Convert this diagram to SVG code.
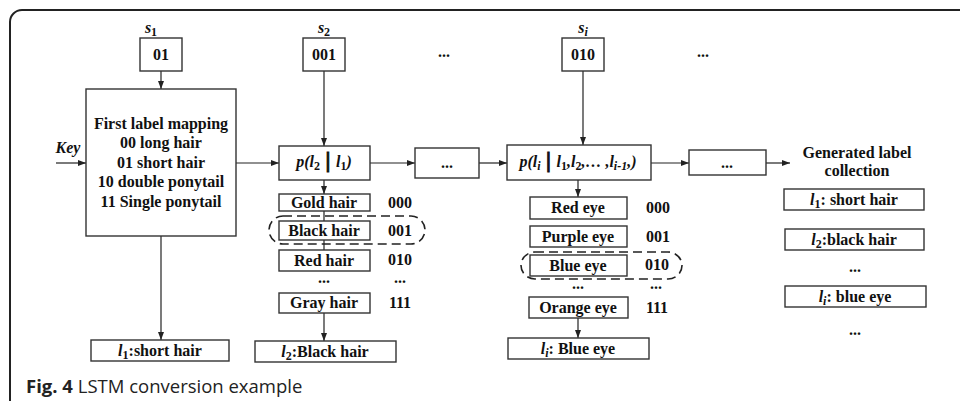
<svg xmlns="http://www.w3.org/2000/svg" width="960" height="403" viewBox="0 0 960 403">
<defs>
<marker id="ah" viewBox="0 0 8 6" refX="8" refY="3" markerWidth="8" markerHeight="6" markerUnits="userSpaceOnUse" orient="auto"><path d="M0,0 L8,3 L0,6 Z" fill="#222"/></marker>
<style>
.b{fill:#fff;stroke:#333;stroke-width:1.4}
.t{font-family:"Liberation Serif","Times New Roman",serif;font-weight:bold;font-size:16px;fill:#111;text-anchor:middle}
.i{font-style:italic}
.s{font-size:12px}
.bar{font-size:22px;font-style:normal;stroke:#111;stroke-width:1}
.c{stroke:#222;stroke-width:1.2;fill:none}
.a{stroke:#222;stroke-width:1.2;fill:none;marker-end:url(#ah)}
.d{fill:none;stroke:#222;stroke-width:1.6;stroke-dasharray:9 5}
.cap{font-family:"Open Sans","Noto Sans",sans-serif;font-size:18.5px;fill:#222}
</style>
</defs>
<rect width="960" height="403" fill="#fff"/>
<path d="M10,401 V22 A12,12 0 0 1 22,10 H960" fill="none" stroke="#222" stroke-width="2"/>

<g id="connectors">
<path class="a" d="M161,71 V89"/>
<path class="a" d="M56,163 H86"/>
<path class="a" d="M236,163 H279"/>
<path class="a" d="M324,71 V146"/>
<path class="a" d="M370,163 H415"/>
<path class="a" d="M479,163 H507"/>
<path class="a" d="M583,71 V145"/>
<path class="a" d="M651,163 H689"/>
<path class="a" d="M766,163 H790"/>
<path class="a" d="M324,180 V194"/>
<path class="a" d="M578,180 V197"/>
<path class="a" d="M161,236 V340"/>
<path class="a" d="M324,313 V341"/>
<path class="a" d="M578,318 V338"/>
<path class="c" d="M324,211 V221 M324,240 V250"/>
</g>

<g id="s1"><text class="t i" x="151" y="33" font-size="18">s<tspan class="s" dy="3" font-style="normal">1</tspan></text><rect class="b" x="140" y="38" width="42" height="33"/><text class="t" x="161" y="60">01</text></g>
<g id="s2"><text class="t i" x="324" y="33" font-size="18">s<tspan class="s" dy="3" font-style="normal">2</tspan></text><rect class="b" x="303" y="38" width="42" height="33"/><text class="t" x="324" y="60">001</text></g>
<g id="si"><text class="t i" x="583" y="33" font-size="18">s<tspan class="s" dy="3">i</tspan></text><rect class="b" x="562" y="38" width="42" height="33"/><text class="t" x="583" y="60">010</text></g>
<g id="dots-top"><text class="t" x="444" y="57">...</text><text class="t" x="703" y="57">...</text></g>

<g id="key"><text class="t i" x="68" y="153">Key</text></g>

<g id="mapping">
<rect class="b" x="86" y="89" width="150" height="147"/>
<text class="t" x="161" y="129">First label mapping</text>
<text class="t" x="161" y="148">00 long hair</text>
<text class="t" x="161" y="168">01 short hair</text>
<text class="t" x="161" y="187">10 double ponytail</text>
<text class="t" x="161" y="207">11 Single ponytail</text>
</g>

<g id="p2">
<rect class="b" x="279" y="146" width="91" height="34"/>
<text class="t i" x="324" y="167">p(l<tspan class="s" dy="3" font-style="normal">2</tspan><tspan class="bar" dy="-3"> | </tspan>l<tspan class="s" dy="3" font-style="normal">1</tspan><tspan dy="-3">)</tspan></text>
</g>
<g id="dots1"><rect class="b" x="415" y="148" width="64" height="30"/><text class="t" x="447" y="168">...</text></g>
<g id="pi">
<rect class="b" x="507" y="145" width="144" height="35"/>
<text class="t i" x="578" y="167">p(l<tspan class="s" dy="3">i</tspan><tspan class="bar" dy="-3"> | </tspan>l<tspan class="s" dy="3" font-style="normal">1</tspan><tspan dy="-3">,l</tspan><tspan class="s" dy="3" font-style="normal">2</tspan><tspan dy="-3">,… ,l</tspan><tspan class="s" dy="3">i-1</tspan><tspan dy="-3">,)</tspan></text>
</g>
<g id="dots2"><rect class="b" x="689" y="150" width="77" height="25"/><text class="t" x="727" y="168">...</text></g>

<g id="hair">
<rect class="b" x="279" y="194" width="91" height="17"/><text class="t" x="324" y="208">Gold hair</text><text class="t" x="400" y="208">000</text>
<rect class="b" x="279" y="221" width="91" height="19"/><text class="t" x="324" y="236">Black hair</text><text class="t" x="400" y="236">001</text>
<rect class="b" x="279" y="250" width="91" height="21"/><text class="t" x="324" y="266">Red hair</text><text class="t" x="400" y="265">010</text>
<text class="t" x="324" y="283">...</text><text class="t" x="400" y="283">...</text>
<rect class="b" x="279" y="293" width="91" height="20"/><text class="t" x="324" y="308">Gray hair</text><text class="t" x="400" y="308">111</text>
<rect class="d" x="269" y="216" width="156" height="28" rx="14" ry="14"/>
</g>
<g id="l2"><rect class="b" x="255" y="341" width="141" height="21"/><text class="t" x="325" y="357"><tspan class="i">l</tspan><tspan class="s" dy="3">2</tspan><tspan dy="-3">:Black hair</tspan></text></g>
<g id="l1"><rect class="b" x="91" y="340" width="138" height="21"/><text class="t" x="160" y="356"><tspan class="i">l</tspan><tspan class="s" dy="3">1</tspan><tspan dy="-3">:short hair</tspan></text></g>

<g id="eye">
<rect class="b" x="530" y="197" width="97" height="22"/><text class="t" x="578" y="213">Red eye</text><text class="t" x="658" y="213">000</text>
<rect class="b" x="530" y="226" width="97" height="21"/><text class="t" x="578" y="242">Purple eye</text><text class="t" x="658" y="242">001</text>
<rect class="b" x="530" y="255" width="97" height="21"/><text class="t" x="578" y="271">Blue eye</text><text class="t" x="657" y="270">010</text>
<text class="t" x="578" y="289">...</text><text class="t" x="656" y="289">...</text>
<rect class="b" x="529" y="297" width="99" height="21"/><text class="t" x="578" y="313">Orange eye</text><text class="t" x="657" y="313">111</text>
<rect class="d" x="521" y="252" width="161" height="27" rx="14" ry="13.5"/>
</g>
<g id="li"><rect class="b" x="508" y="338" width="141" height="21"/><text class="t" x="578" y="354"><tspan class="i">l</tspan><tspan class="s i" dy="3">i</tspan><tspan dy="-3">: Blue eye</tspan></text></g>

<g id="collection">
<text class="t" x="857" y="158">Generated label</text>
<text class="t" x="857" y="176">collection</text>
<rect class="b" x="784" y="189" width="140" height="21"/><text class="t" x="854" y="205"><tspan class="i">l</tspan><tspan class="s" dy="3">1</tspan><tspan dy="-3">: short hair</tspan></text>
<rect class="b" x="785" y="229" width="139" height="21"/><text class="t" x="854" y="245"><tspan class="i">l</tspan><tspan class="s" dy="3">2</tspan><tspan dy="-3">:black hair</tspan></text>
<text class="t" x="855" y="272">...</text>
<rect class="b" x="785" y="286" width="141" height="21"/><text class="t" x="855" y="302"><tspan class="i">l</tspan><tspan class="s i" dy="3">i</tspan><tspan dy="-3">: blue eye</tspan></text>
<text class="t" x="855" y="335">...</text>
</g>

<g id="caption"><text class="cap" x="26" y="393"><tspan font-weight="bold">Fig. 4</tspan> LSTM conversion example</text></g>
</svg>
